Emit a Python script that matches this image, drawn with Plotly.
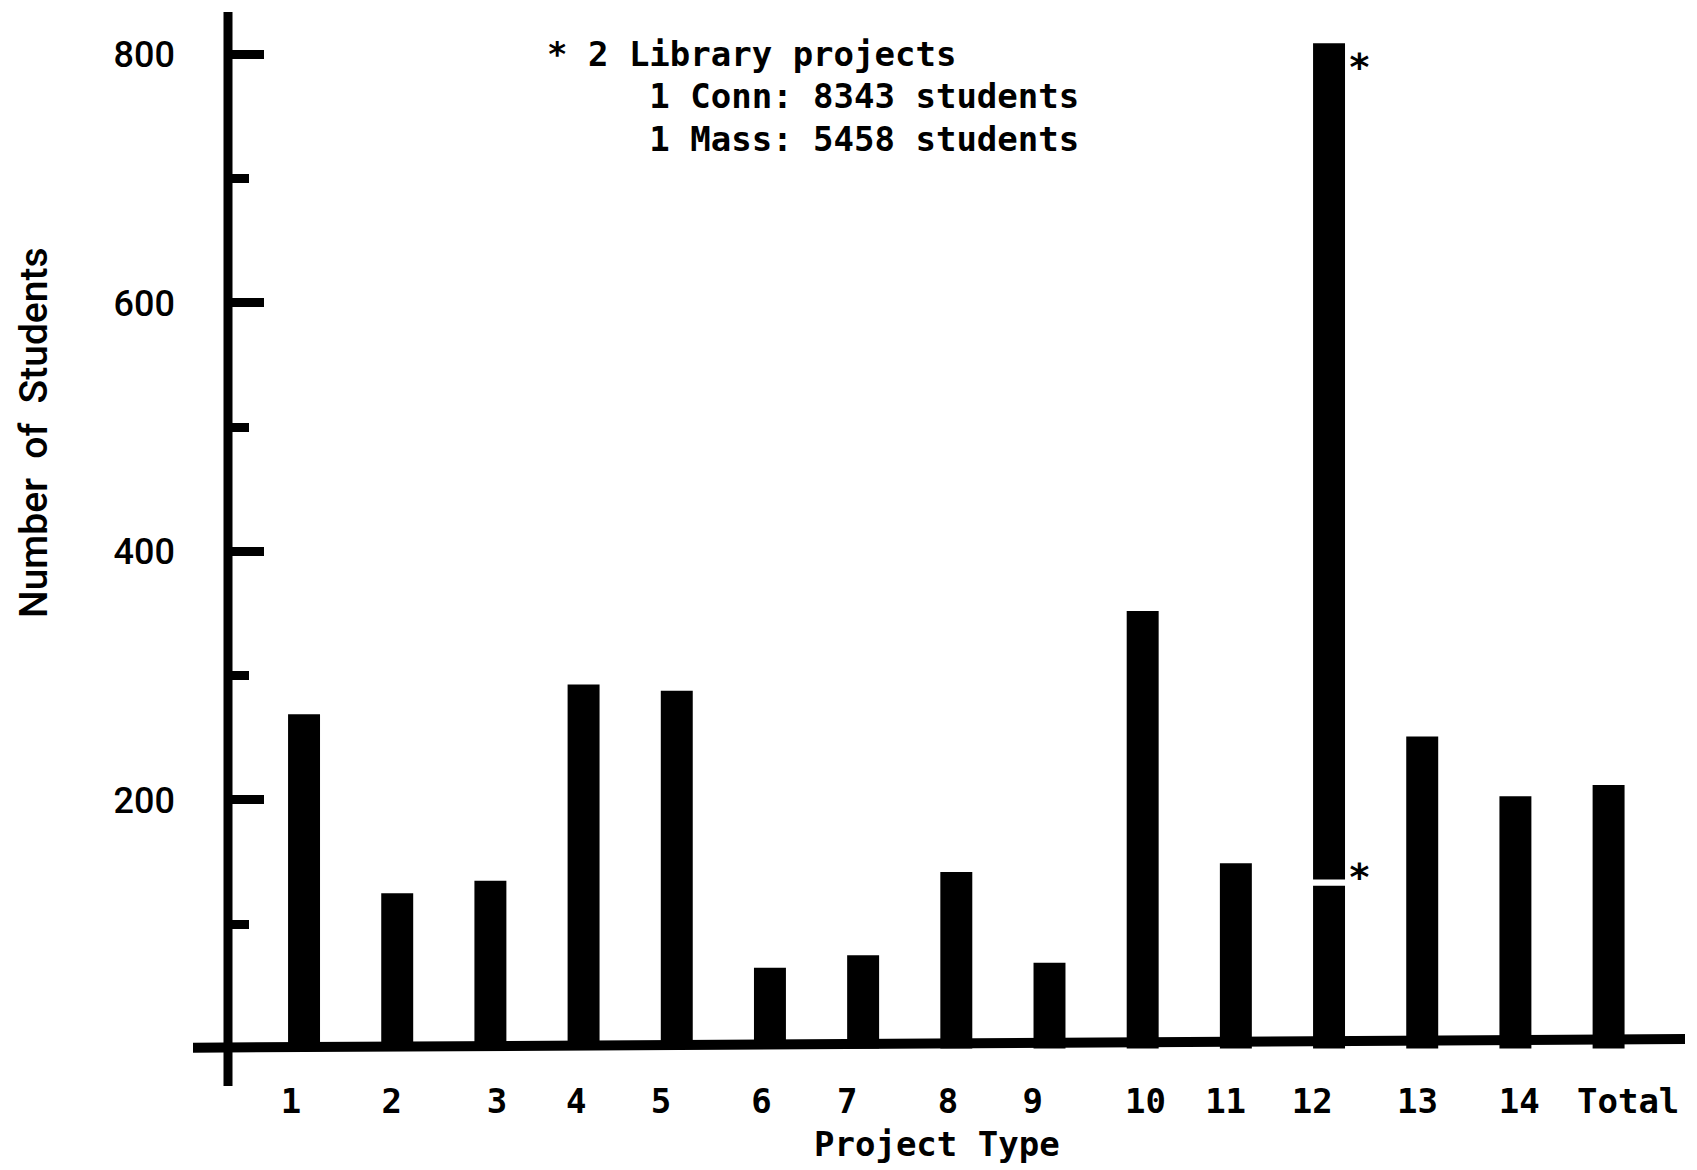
import plotly.graph_objects as go

# 数据
project_types = ["1", "2", "3", "4", "5", "6", "7", "8", "9",
                 "10", "11", "12", "13", "14", "Total"]
students = [269, 125, 135, 293, 288, 65, 75, 142, 69,
            352, 149, 131, 251, 203, 212]
# 12 号项目的断开柱（上段）
break_base = 136
break_top = 809
# 星号所在的高度
star_levels = [794, 142]
note_lines = [
    "* 2 Library projects",
    "     1 Conn: 8343 students",
    "     1 Mass: 5458 students",
]

# 版面：页面像素（页面 body 自带 8px 边距）
OFF = 8
W, H = 1697 - OFF, 1170 - OFF
L, R, T, B = 228, 1685, 12, 1086
MONO = "DejaVu Sans Mono"
SANS = "Roboto"


def px(x, y):
    """页面像素 -> paper 坐标。"""
    return (x - L) / (R - L), (B - y) / (B - T)


xs = list(range(1, len(students) + 1))
# 刻度文字相对柱子的偏移（原图手工排版）
label_shift = [-0.14, -0.06, 0.07, -0.08, -0.17, -0.09, -0.17, -0.09,
               -0.18, 0.03, -0.11, -0.18, -0.05, 0.04, 0.21]
tick_pos = [x + s for x, s in zip(xs, label_shift)]

fig = go.Figure()
fig.add_trace(go.Bar(
    x=xs, y=students, width=0.343,
    marker=dict(color="black", line=dict(width=0)),
    showlegend=False,
))
fig.add_trace(go.Bar(
    x=[12], y=[break_top - break_base], base=[break_base], width=0.343,
    marker=dict(color="black", line=dict(width=0)),
    showlegend=False,
))

# 纵轴线与基线（原图基线略微倾斜）
fig.add_shape(type="line", xref="paper", yref="paper",
              x0=0, x1=0, y0=0, y1=1,
              line=dict(color="black", width=9), layer="above")
fig.add_shape(type="line", xref="paper", yref="y",
              x0=px(193, 0)[0], x1=1.0, y0=0.6, y1=7.6,
              line=dict(color="black", width=10), layer="above")

# 12 号柱旁的星号
for yv in star_levels:
    fig.add_annotation(x=12, y=yv, xref="x", yref="y", text="*",
                       showarrow=False, xanchor="center", yanchor="middle",
                       xshift=30, yshift=-5,
                       font=dict(family=MONO, size=38, color="black",
                                 weight="bold"))

# 注释文字
for i, line in enumerate(note_lines):
    ax, ay = px(545, 54 + i * 42.5)
    fig.add_annotation(x=ax, y=ay, xref="paper", yref="paper",
                       text=line.replace(" ", "\u00a0"),
                       showarrow=False, xanchor="left", yanchor="middle",
                       font=dict(family=MONO, size=34, color="black",
                                 weight="bold"))

# 坐标轴标题
tx, ty = px(937, 1144)
fig.add_annotation(x=tx, y=ty, xref="paper", yref="paper", text="Project Type",
                   showarrow=False, xanchor="center", yanchor="middle",
                   font=dict(family=MONO, size=34, color="black", weight="bold"))
yx, yy = px(34, 433)
fig.add_annotation(x=yx, y=yy, xref="paper", yref="paper",
                   text="Number\u00a0\u00a0of\u00a0\u00a0Students", textangle=-90,
                   showarrow=False, xanchor="center", yanchor="middle",
                   borderpad=0,
                   font=dict(family=SANS, size=39, color="black", weight=500))

fig.update_layout(
    width=W, height=H,
    margin=dict(l=L - OFF, r=1697 - R, t=T - OFF, b=1170 - B, pad=0),
    paper_bgcolor="white", plot_bgcolor="white",
    barmode="overlay",
    xaxis=dict(
        range=[0.184, 15.82],
        tickmode="array", tickvals=tick_pos, ticktext=project_types,
        ticks="", showline=False, showgrid=False, zeroline=False,
        ticklabelstandoff=-8,
        tickfont=dict(family=MONO, size=34, color="black", weight="bold"),
    ),
    yaxis=dict(
        range=[-30.2, 834.2],
        tickmode="array", tickvals=[200, 400, 600, 800],
        ticks="inside", ticklen=36, tickwidth=9, tickcolor="black",
        minor=dict(tickvals=[100, 300, 500, 700], ticks="inside",
                   ticklen=21, tickwidth=9, tickcolor="black"),
        showline=False, showgrid=False, zeroline=False,
        ticklabelstandoff=52,
        tickfont=dict(family=SANS, size=36, color="black", weight=500),
    ),
)

fig.write_html("out.html")
